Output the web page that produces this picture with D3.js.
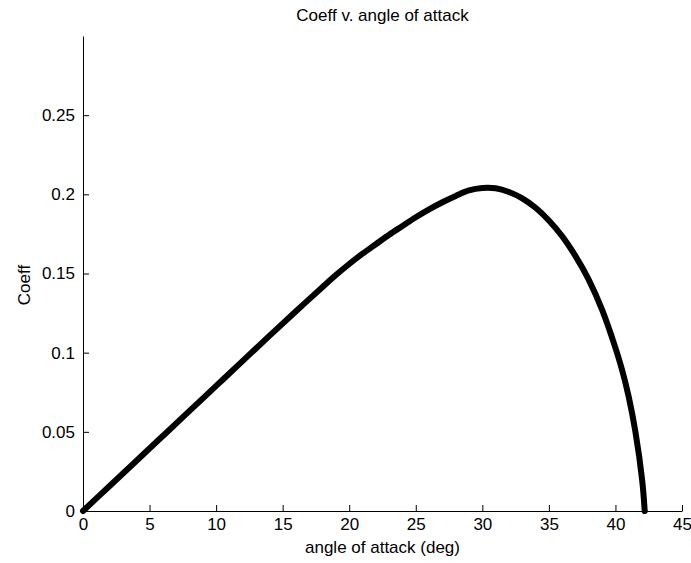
<!DOCTYPE html>
<html>
<head>
<meta charset="utf-8">
<script src="https://cdn.jsdelivr.net/npm/d3@7"></script>
<style>
  html, body { margin: 0; padding: 0; background: #fff; }
  svg { display: block; }
  text { font-family: "Liberation Sans", Arial, sans-serif; fill: #000; }
</style>
</head>
<body>
<svg id="chart" width="691" height="563"></svg>
<script>
// Angle of attack (deg) and the coefficient measured at each angle
const angle = [0, 2, 4, 6, 8, 10, 12, 14, 16, 18, 19, 20, 21, 22, 23, 24, 25, 26, 27, 28, 29, 30, 31, 32, 33, 34, 35, 36, 37, 38, 39, 40, 40.5, 41, 41.5, 42, 42.2];
const coeff = [0, 0.0158, 0.0316, 0.0474, 0.0632, 0.079, 0.0948, 0.1106, 0.1262, 0.1415, 0.149, 0.156, 0.1625, 0.1685, 0.1745, 0.180, 0.1855, 0.1905, 0.195, 0.199, 0.2025, 0.204, 0.2038, 0.2015, 0.1975, 0.1915, 0.1835, 0.1735, 0.161, 0.146, 0.127, 0.103, 0.089, 0.072, 0.050, 0.020, 0];

const xTicks = [0, 5, 10, 15, 20, 25, 30, 35, 40, 45];
const yTicks = [0, 0.05, 0.1, 0.15, 0.2, 0.25];
const xDomain = [0, 45];
const yDomain = [0, 0.3];

const titleText = "Coeff v. angle of attack";
const xLabelText = "angle of attack (deg)";
const yLabelText = "Coeff";

const svg = d3.select("#chart");
const plot = { left: 83, right: 682, top: 36, bottom: 511 };
const fontSize = 17;

const x = d3.scaleLinear().domain(xDomain).range([plot.left, plot.right]);
const y = d3.scaleLinear().domain(yDomain).range([plot.bottom, plot.top]);

// x axis: ticks point into the plot
const xAxis = svg.append("g")
  .attr("transform", `translate(0,${plot.bottom})`)
  .call(d3.axisBottom(x).tickValues(xTicks).tickSizeInner(-6).tickSizeOuter(0).tickFormat(d3.format("d")));
xAxis.select(".domain").attr("stroke", "#000").attr("stroke-width", 1);
xAxis.selectAll(".tick line").attr("stroke", "#000");
xAxis.selectAll(".tick text").attr("y", 7).attr("dy", "0.71em").style("font-size", fontSize + "px");

// y axis
const yAxis = svg.append("g")
  .attr("transform", `translate(${plot.left},0)`)
  .call(d3.axisLeft(y).tickValues(yTicks).tickSizeInner(-6).tickSizeOuter(0).tickFormat(d => d === 0 ? "0" : String(+d.toFixed(2))));
yAxis.select(".domain").attr("stroke", "#000").attr("stroke-width", 1);
yAxis.selectAll(".tick line").attr("stroke", "#000");
yAxis.selectAll(".tick text").attr("x", -8).style("font-size", fontSize + "px");

// coefficient curve
const pts = angle.map((a, i) => [a, coeff[i]]);
svg.append("path")
  .datum(pts)
  .attr("fill", "none")
  .attr("stroke", "#000")
  .attr("stroke-width", 6)
  .attr("stroke-linejoin", "round")
  .attr("stroke-linecap", "round")
  .attr("d", d3.line().x(d => x(d[0])).y(d => y(d[1])).curve(d3.curveCatmullRom.alpha(0.5)));

// labels
svg.append("text")
  .attr("x", (plot.left + plot.right) / 2)
  .attr("y", 21)
  .attr("text-anchor", "middle")
  .style("font-size", fontSize + "px")
  .text(titleText);

svg.append("text")
  .attr("x", (plot.left + plot.right) / 2)
  .attr("y", 553)
  .attr("text-anchor", "middle")
  .style("font-size", fontSize + "px")
  .text(xLabelText);

svg.append("text")
  .attr("transform", `translate(30,285) rotate(-90)`)
  .attr("text-anchor", "middle")
  .style("font-size", fontSize + "px")
  .text(yLabelText);
</script>
</body>
</html>
